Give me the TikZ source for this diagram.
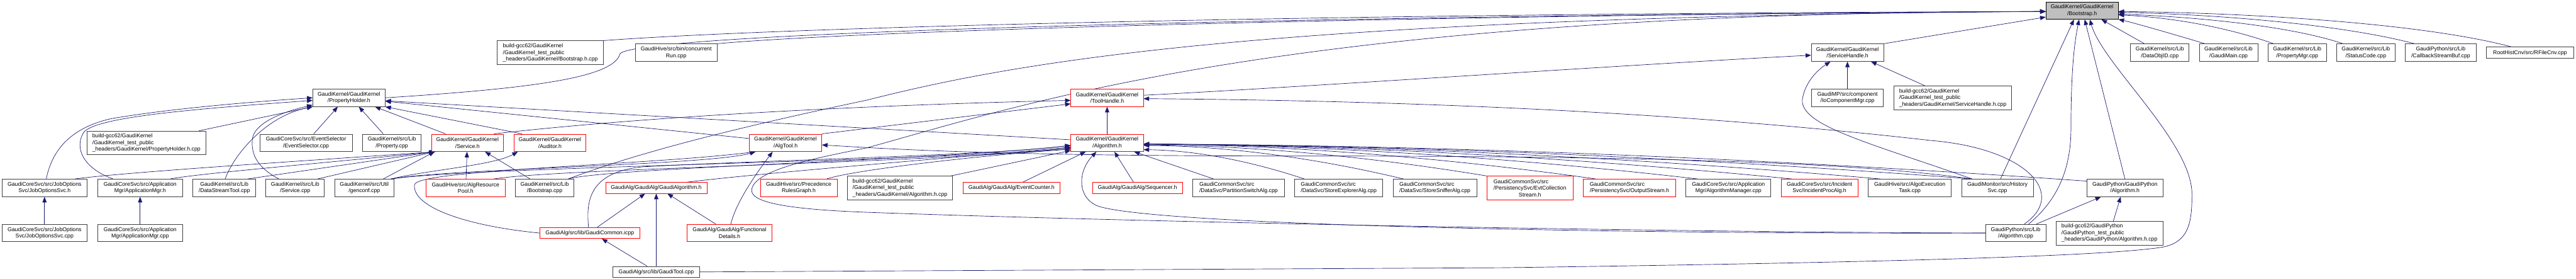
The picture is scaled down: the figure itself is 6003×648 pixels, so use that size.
\documentclass[tikz,border=0pt]{standalone}
\usepackage{fontspec}
\setmainfont{Liberation Sans}
\usetikzlibrary{arrows.meta}
\definecolor{edgeblue}{HTML}{191970}
\definecolor{boxgray}{HTML}{404040}
\definecolor{rootgray}{HTML}{BFBFBF}
\definecolor{nodered}{HTML}{FF0000}
\pgfdeclarelayer{bg}
\pgfdeclarelayer{edges}
\pgfsetlayers{bg,edges,main}
\tikzset{
  gbox/.style={draw=boxgray, line width=1.2pt, fill=white, inner sep=1pt, font=\fontsize{12.8}{15.4}\selectfont, align=center, text=black},
  rbox/.style={gbox, draw=nodered},
  lbox/.style={gbox, align=left},
  rlbox/.style={rbox, align=left},
  rootbox/.style={gbox, draw=black, fill=rootgray},
  dep/.style={draw=edgeblue, line width=1pt, -{Triangle[length=13pt,width=10pt]}},
}
\begin{document}
\begin{tikzpicture}[x=1pt,y=-1pt]
\begin{pgfonlayer}{bg}
\fill[white] (0,0) rectangle (6003,648);
\end{pgfonlayer}
\useasboundingbox (0,0) rectangle (6003,648);

% row 0
\node[rootbox, minimum width=168.3pt, minimum height=40pt] (N0) at (4852,24.7) {GaudiKernel/GaudiKernel\\/Bootstrap.h};
% row 1
\node[lbox, minimum width=247pt, minimum height=55.5pt] (A1) at (1282.5,122.8) {build-gcc62/GaudiKernel\\/GaudiKernel\_test\_public\\\_headers/GaudiKernel/Bootstrap.h.cpp};
\node[gbox, minimum width=190.7pt, minimum height=40.5pt] (A2) at (1575.7,122.5) {GaudiHive/src/bin/concurrent\\Run.cpp};
\node[gbox, minimum width=168.3pt, minimum height=40.5pt] (A3) at (4305.2,122.5) {GaudiKernel/GaudiKernel\\/ServiceHandle.h};
\node[gbox, minimum width=136.3pt, minimum height=40.5pt] (A4) at (5033.2,122.5) {GaudiKernel/src/Lib\\/DataObjID.cpp};
\node[gbox, minimum width=136.3pt, minimum height=40.5pt] (A5) at (5193.2,122.5) {GaudiKernel/src/Lib\\/GaudiMain.cpp};
\node[gbox, minimum width=136.7pt, minimum height=40.5pt] (A6) at (5353.3,122.5) {GaudiKernel/src/Lib\\/PropertyMgr.cpp};
\node[gbox, minimum width=136.3pt, minimum height=40.5pt] (A7) at (5513.2,122.5) {GaudiKernel/src/Lib\\/StatusCode.cpp};
\node[gbox, minimum width=164.7pt, minimum height=40.5pt] (A8) at (5687.7,122.5) {GaudiPython/src/Lib\\/CallbackStreamBuf.cpp};
\node[gbox, minimum width=204.7pt, minimum height=26.3pt] (A9) at (5895.7,122.8) {RootHistCnv/src/RFileCnv.cpp};
% row 2
\node[gbox, minimum width=168.3pt, minimum height=40.5pt] (B1) at (813.2,227.6) {GaudiKernel/GaudiKernel\\/PropertyHolder.h};
\node[rbox, minimum width=168.6pt, minimum height=40.5pt] (B2) at (2580,227.6) {GaudiKernel/GaudiKernel\\/ToolHandle.h};
\node[gbox, minimum width=167pt, minimum height=40.5pt] (B3) at (4305.2,227.6) {GaudiMP/src/component\\/IoComponentMgr.cpp};
\node[lbox, minimum width=275pt, minimum height=54.5pt] (B4) at (4550.5,227.7) {build-gcc62/GaudiKernel\\/GaudiKernel\_test\_public\\\_headers/GaudiKernel/ServiceHandle.h.cpp};
% row 3
\node[lbox, minimum width=277.7pt, minimum height=55pt] (C1) at (341.2,332.5) {build-gcc62/GaudiKernel\\/GaudiKernel\_test\_public\\\_headers/GaudiKernel/PropertyHolder.h.cpp};
\node[gbox, minimum width=215pt, minimum height=40.5pt] (C2) at (713.2,332.3) {GaudiCoreSvc/src/EventSelector\\/EventSelector.cpp};
\node[gbox, minimum width=136.3pt, minimum height=40.5pt] (C3) at (913.2,332.3) {GaudiKernel/src/Lib\\/Property.cpp};
\node[rbox, minimum width=168pt, minimum height=40.5pt] (C4) at (1089.3,332.3) {GaudiKernel/GaudiKernel\\/Service.h};
\node[rbox, minimum width=168.4pt, minimum height=40.5pt] (C5) at (1281.5,332.3) {GaudiKernel/GaudiKernel\\/Auditor.h};
\node[rbox, minimum width=168.4pt, minimum height=40.5pt] (C6) at (1830.5,332.3) {GaudiKernel/GaudiKernel\\/AlgTool.h};
\node[rbox, minimum width=168.6pt, minimum height=40.5pt] (C7) at (2580,332.3) {GaudiKernel/GaudiKernel\\/Algorithm.h};
% row 4
\node[gbox, minimum width=199pt, minimum height=40.5pt] (D1) at (103.8,437.3) {GaudiCoreSvc/src/JobOptions\\Svc/JobOptionsSvc.h};
\node[gbox, minimum width=197.6pt, minimum height=40.5pt] (D2) at (326.5,437.3) {GaudiCoreSvc/src/Application\\Mgr/ApplicationMgr.h};
\node[gbox, minimum width=146.7pt, minimum height=40.5pt] (D3) at (522.7,437.3) {GaudiKernel/src/Lib\\/DataStreamTool.cpp};
\node[gbox, minimum width=136.3pt, minimum height=40.5pt] (D4) at (687.8,437.3) {GaudiKernel/src/Lib\\/Service.cpp};
\node[gbox, minimum width=138.6pt, minimum height=40.5pt] (D5) at (849,437.3) {GaudiKernel/src/Util\\/genconf.cpp};
\node[rbox, minimum width=184pt, minimum height=40.5pt] (D6) at (1085,437.3) {GaudiHive/src/AlgResource\\Pool.h};
\node[gbox, minimum width=136.3pt, minimum height=40.5pt] (D7) at (1269.2,437.3) {GaudiKernel/src/Lib\\/Bootstrap.cpp};
\node[rbox, minimum width=236pt, minimum height=25.3pt] (D8) at (1529.3,437.3) {GaudiAlg/GaudiAlg/GaudiAlgorithm.h};
\node[rbox, minimum width=178.7pt, minimum height=40.5pt] (D9) at (1861.3,437.3) {GaudiHive/src/Precedence\\RulesGraph.h};
\node[lbox, minimum width=245.7pt, minimum height=55pt] (D10) at (2097.2,437.5) {build-gcc62/GaudiKernel\\/GaudiKernel\_test\_public\\\_headers/GaudiKernel/Algorithm.h.cpp};
\node[rbox, minimum width=227pt, minimum height=25.3pt] (D11) at (2357.2,437.3) {GaudiAlg/GaudiAlg/EventCounter.h};
\node[rbox, minimum width=209.6pt, minimum height=25.3pt] (D12) at (2650.5,437.3) {GaudiAlg/GaudiAlg/Sequencer.h};
\node[lbox, minimum width=213.3pt, minimum height=40.5pt] (D13) at (2886.3,437.3) {GaudiCommonSvc/src\\/DataSvc/PartitionSwitchAlg.cpp};
\node[lbox, minimum width=204.7pt, minimum height=40.5pt] (D14) at (3119.7,437.3) {GaudiCommonSvc/src\\/DataSvc/StoreExplorerAlg.cpp};
\node[lbox, minimum width=195pt, minimum height=40.5pt] (D15) at (3343.8,437.3) {GaudiCommonSvc/src\\/DataSvc/StoreSnifferAlg.cpp};
\node[rlbox, minimum width=200.3pt, minimum height=55pt] (D16) at (3565.2,437.5) {GaudiCommonSvc/src\\/PersistencySvc/EvtCollection\\\hspace*{58.7pt}Stream.h};
\node[rlbox, minimum width=215pt, minimum height=40.5pt] (D17) at (3797.2,437.3) {GaudiCommonSvc/src\\/PersistencySvc/OutputStream.h};
\node[gbox, minimum width=197.7pt, minimum height=40.5pt] (D18) at (4027.8,437.3) {GaudiCoreSvc/src/Application\\Mgr/AlgorithmManager.cpp};
\node[rbox, minimum width=178.6pt, minimum height=40.5pt] (D19) at (4240,437.3) {GaudiCoreSvc/src/Incident\\Svc/IncidentProcAlg.h};
\node[gbox, minimum width=193.6pt, minimum height=40.5pt] (D20) at (4450.5,437.3) {GaudiHive/src/AlgoExecution\\Task.cpp};
\node[gbox, minimum width=166.7pt, minimum height=40.5pt] (D21) at (4654.7,437.3) {GaudiMonitor/src/History\\Svc.cpp};
\node[gbox, minimum width=176.3pt, minimum height=40.5pt] (D22) at (4951.8,437.3) {GaudiPython/GaudiPython\\/Algorithm.h};
% row 5
\node[gbox, minimum width=199pt, minimum height=40.5pt] (E1) at (103.8,542.3) {GaudiCoreSvc/src/JobOptions\\Svc/JobOptionsSvc.cpp};
\node[gbox, minimum width=197.6pt, minimum height=40.5pt] (E2) at (326.5,542.3) {GaudiCoreSvc/src/Application\\Mgr/ApplicationMgr.cpp};
\node[rbox, minimum width=233.6pt, minimum height=25.3pt] (E3) at (1374.5,542.3) {GaudiAlg/src/lib/GaudiCommon.icpp};
\node[rbox, minimum width=196.6pt, minimum height=40.5pt] (E4) at (1700,542.3) {GaudiAlg/GaudiAlg/Functional\\Details.h};
\node[gbox, minimum width=140.3pt, minimum height=40.5pt] (E5) at (4697.2,542.3) {GaudiPython/src/Lib\\/Algorithm.cpp};
\node[lbox, minimum width=249.7pt, minimum height=55pt] (E6) at (4915.8,542.5) {build-gcc62/GaudiPython\\/GaudiPython\_test\_public\\\_headers/GaudiPython/Algorithm.h.cpp};
% row 6
\node[gbox, minimum width=203pt, minimum height=25.5pt] (F1) at (1529.2,632.8) {GaudiAlg/src/lib/GaudiTool.cpp};

\begin{pgfonlayer}{edges}
% ---- into Bootstrap.h
\draw[dep] (A1.north east) .. controls (1800,65) and (3000,32) .. ([yshift=-2pt]N0.west);
\draw[dep] (A2.north east) .. controls (2000,72) and (3200,36) .. ([yshift=-2pt]N0.west);
\draw[dep] (B1.east) .. controls (1250,205) and (1430,180) .. (1445,125) .. controls (1480,80) and (2800,38) .. ([yshift=-2pt]N0.west);
\draw[dep] ([xshift=-14pt]D7.north east) .. controls (1500,350) and (1750,290) .. (2020,233) .. controls (2350,150) and (2900,40) .. ([yshift=-2pt]N0.west);
\draw[dep] (E5.west) .. controls (3800,540) and (2600,515) .. (2020,494) .. controls (1830,487) and (1745,470) .. (1752,440) .. controls (1760,395) and (1900,368) .. (2020,344) .. controls (2400,240) and (3000,30) .. ([yshift=-2pt]N0.west);
\draw[dep] (F1.east) -- (3500,623) .. controls (4300,612) and (4900,598) .. (5040,575) .. controls (5100,563) and (5108,520) .. (5108,452) .. controls (5108,330) and (4900,150) .. ([xshift=18pt]N0.south);
\draw[dep] ([xshift=30pt]E5.north) .. controls (4790,470) and (4826,400) .. (4826,300) .. controls (4826,150) and (4836,90) .. ([xshift=-7pt]N0.south);
\draw[dep] ([xshift=7pt]D21.north) -- ([xshift=-19pt]N0.south);
\draw[dep] (D22.north) -- ([xshift=6pt]N0.south);
\draw[dep] (A3.north east) -- ([yshift=-15pt]N0.west);
\draw[dep] ([xshift=-36pt]A4.north) -- ([xshift=45pt]N0.south);
\draw[dep] ([xshift=-55pt]A5.north) .. controls (5050,75) and (4960,50) .. (N0.south east);
\draw[dep] ([xshift=-55pt]A6.north) .. controls (5180,60) and (5050,40) .. ([yshift=-10pt]N0.east);
\draw[dep] ([xshift=-53pt]A7.north) .. controls (5320,55) and (5080,38) .. ([yshift=-8pt]N0.east);
\draw[dep] ([xshift=-61pt]A8.north) .. controls (5450,55) and (5150,33) .. ([yshift=-4pt]N0.east);
\draw[dep] ([xshift=-43pt]A9.north) .. controls (5650,55) and (5250,30) .. ([yshift=-2pt]N0.east);
% ---- into PropertyHolder.h
\draw[dep] ([xshift=4pt]D1.north) .. controls (118,365) and (150,300) .. (260,276) .. controls (400,252) and (600,236) .. (B1.west);
\draw[dep] ([xshift=-63pt]D2.north) .. controls (195,392) and (172,345) .. (195,308) .. controls (225,270) and (480,252) .. ([yshift=-6pt]B1.west);
\draw[dep] ([xshift=-17pt]C1.north east) -- (B1.south west);
\draw[dep] ([xshift=2pt]D3.north) .. controls (545,360) and (620,270) .. (B1.south west);
\draw[dep] ([xshift=-38pt]D4.north) .. controls (600,390) and (585,360) .. (588,325) .. controls (590,290) and (650,262) .. ([yshift=4pt]B1.south west);
\draw[dep] ([xshift=18pt]C2.north) -- ([xshift=-26pt]B1.south);
\draw[dep] ([xshift=-20pt]C3.north) -- ([xshift=23pt]B1.south);
\draw[dep] ([xshift=-51pt]C4.north) -- ([xshift=-24pt]B1.south east);
\draw[dep] ([xshift=-65pt]C5.north) -- (B1.south east);
\draw[dep] ([yshift=10pt]C6.west) -- ([yshift=-8pt]B1.east);
\draw[dep] ([yshift=7pt]C7.west) -- ([yshift=-7pt]B1.east);
% ---- into ServiceHandle.h
\draw[dep] ([yshift=6pt]B2.east) .. controls (3000,205) and (3800,150) .. ([yshift=-6pt]A3.west);
\draw[dep] (B3) -- (A3);
\draw[dep] ([xshift=-64pt]B4.north) -- ([xshift=-30pt]A3.south east);
\draw[dep] ([xshift=25pt]D21.north west) .. controls (4350,330) and (4185,290) .. (4201,226) .. controls (4210,185) and (4240,160) .. ([xshift=45pt]A3.south west);
% ---- into ToolHandle.h
\draw[dep] (C7) -- (B2);
\draw[dep] (C6.north east) -- ([yshift=-14pt]B2.west);
\draw[dep] ([xshift=-23pt]C4.north east) .. controls (1500,272) and (2000,245) .. ([yshift=-6pt]B2.west);
\draw[dep] ([xshift=20pt]E5.north) .. controls (4820,450) and (4720,345) .. (4500,327) .. controls (4000,270) and (3400,235) .. ([yshift=-2pt]B2.east);
% ---- into Service.h
\draw[dep] ([xshift=70pt]D1.north) .. controls (300,400) and (700,375) .. ([xshift=10pt]C4.south west);
\draw[dep] ([xshift=70pt]D2.north) .. controls (450,405) and (800,375) .. ([xshift=10pt]C4.south west);
\draw[dep] ([xshift=54pt]D3.north) -- ([xshift=8pt]C4.south west);
\draw[dep] ([xshift=52pt]D4.north) -- ([xshift=8pt]C4.south west);
\draw[dep] ([xshift=44pt]D5.north) -- ([xshift=8pt]C4.south west);
\draw[dep] ([xshift=1pt]D6.north) -- ([xshift=-1pt]C4.south);
\draw[dep] ([xshift=-34pt]D7.north) -- ([xshift=41pt]C4.south);
% ---- genconf and others to Auditor / AlgTool / Algorithm
\draw[dep] ([xshift=-8pt]D5.north east) .. controls (1000,395) and (1150,385) .. ([xshift=10pt]C5.south west);
\draw[dep] ([xshift=-8pt]D5.north east) .. controls (1050,392) and (1650,385) .. ([xshift=15pt]C6.south west);
\draw[dep] ([xshift=-8pt]D5.north east) .. controls (1100,388) and (2200,375) .. ([yshift=-12pt]C7.west);
\draw[dep] ([xshift=-27pt]D6.north east) .. controls (1300,392) and (2200,378) .. ([yshift=-12pt]C7.west);
\draw[dep] ([xshift=-14pt]D7.north east) .. controls (1420,390) and (2200,372) .. ([yshift=-6pt]C7.west);
\draw[dep] ([xshift=-3pt]E3.north) .. controls (1366,470) and (1370,400) .. (1500,388) .. controls (1800,372) and (2300,362) .. ([yshift=-6pt]C7.west);
\draw[dep] (E3.west) .. controls (1080,525) and (960,480) .. (966,430) .. controls (970,395) and (1500,385) .. ([xshift=15pt]C6.south west);
% ---- GaudiTool, GaudiCommon, FunctionalDetails
\draw[dep] ([xshift=-21pt]F1.north) -- ([xshift=28pt]E3.south);
\draw[dep] (F1.north) -- (D8.south);
\draw[dep] ([xshift=17pt]E3.north) -- ([xshift=-26pt]D8.south);
\draw[dep] ([xshift=-32pt]E4.north) -- ([xshift=26pt]D8.south);
\draw[dep] ([xshift=3pt]E4.north) .. controls (1715,470) and (1765,400) .. ([xshift=-30pt]C6.south);
% ---- into Algorithm.h
\draw[dep] ([xshift=70pt]D8.north) .. controls (1800,400) and (2250,365) .. ([yshift=-10pt]C7.west);
\draw[dep] ([xshift=65pt]D9.north) .. controls (1990,395) and (2300,360) .. ([yshift=-15pt]C7.west);
\draw[dep] ([xshift=-5pt]D10.north east) -- ([yshift=-18pt]C7.west);
\draw[dep] ([xshift=26pt]D11.north) -- ([xshift=-50pt]C7.south);
\draw[dep] ([xshift=-9pt]D12.north) -- ([xshift=17pt]C7.south);
\draw[dep] ([xshift=-58pt]D13.north) -- ([xshift=63pt]C7.south);
\draw[dep] (E5.west) .. controls (3800,545) and (2700,525) .. (2560,480) .. controls (2510,462) and (2510,400) .. ([xshift=-25pt]C7.south);
\draw[dep] ([xshift=23pt]D14.north west) .. controls (2927,379) and (2796,350) .. ([yshift=-16pt]C7.east);
\draw[dep] ([xshift=25pt]D15.north west) .. controls (3089,373) and (2877,340) .. ([yshift=-6pt]C7.east);
\draw[dep] (D16.north west) .. controls (3225,370) and (2944,339) .. ([yshift=-5pt]C7.east);
\draw[dep] ([xshift=30pt]D17.north west) .. controls (3403,372) and (3034,338) .. ([yshift=-3pt]C7.east);
\draw[dep] ([xshift=28pt]D18.north west) .. controls (3569,372) and (3117,338) .. ([yshift=-3pt]C7.east);
\draw[dep] ([xshift=26pt]D19.north west) .. controls (3723,372) and (3194,338) .. ([yshift=-3pt]C7.east);
\draw[dep] ([xshift=29pt]D20.north west) .. controls (3867,372) and (3266,338) .. ([yshift=-3pt]C7.east);
\draw[dep] ([xshift=25pt]D21.north west) .. controls (4017,372) and (3341,338) .. ([yshift=-3pt]C7.east);
\draw[dep] ([yshift=-5pt]D22.north west) .. controls (4203,375) and (3434,338) .. ([yshift=-3pt]C7.east);
% ---- HistorySvc to AlgTool.h
\draw[dep] ([xshift=25pt]D21.north west) .. controls (4300,375) and (3800,363) .. (3000,363) .. controls (2300,363) and (2050,345) .. ([yshift=-5pt]C6.east);
% ---- bottom rows
\draw[dep] (E1) -- (D1);
\draw[dep] (E2) -- (D2);
\draw[dep] ([xshift=48pt]E5.north) -- ([xshift=-56pt]D22.south);
\draw[dep] ([xshift=9pt]E6.north) -- ([xshift=-10pt]D22.south);
\end{pgfonlayer}
\end{tikzpicture}
\end{document}
